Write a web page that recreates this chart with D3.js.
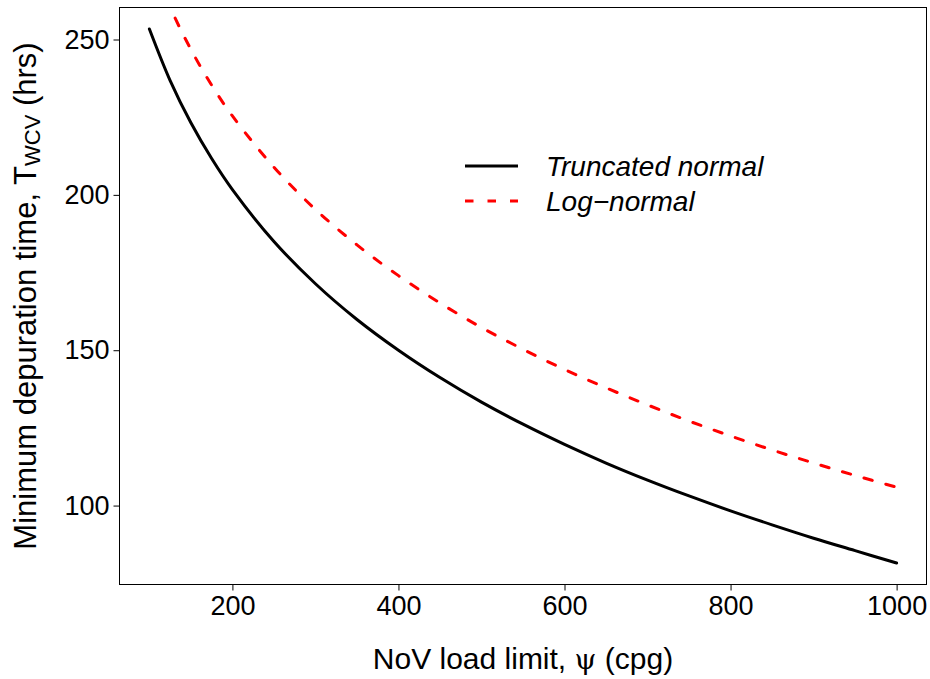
<!DOCTYPE html>
<html lang="en">
<head>
    <meta charset="UTF-8">
    <title>Minimum depuration time</title>
    <script src="https://d3js.org/d3.v7.min.js"></script>
    <style>
        body {
            margin: 0;
            background: #fff;
        }
        svg text {
            font-family: "Liberation Sans", Arial, sans-serif;
            fill: #000;
        }
    </style>
</head>
<body>
    <div id="chart"></div>

    <script>
        // NoV load limit (cpg), sampled along the curves
        const loadLimit = [100, 125, 150, 175, 200, 250, 300, 350, 400, 450, 500, 550,
                           600, 650, 700, 750, 800, 850, 900, 950, 1000];
        // T_WCV (hrs)
        const truncNormal = [253.4, 236.8, 223.2, 211.7, 201.7, 185.0, 171.4, 159.9, 150.0, 141.2, 133.3, 126.2,
                             119.7, 113.7, 108.2, 103.1, 98.3, 93.8, 89.5, 85.5, 81.5];
        const logNormal = [277.0, 260.4, 246.8, 235.3, 225.4, 208.9, 195.3, 183.9, 174.0, 165.2, 157.3, 150.3,
                           143.8, 137.9, 132.4, 127.2, 122.4, 117.9, 113.7, 109.7, 105.9];
        const xTicks = [200, 400, 600, 800, 1000];
        const yTicks = [100, 150, 200, 250];
        const seriesNames = ['Truncated normal', 'Log\u2212normal'];

        const width = 930, height = 679;
        const plot = { left: 119.5, right: 926.5, top: 7.5, bottom: 584.5 };

        const svg = d3.select('#chart')
            .append('svg')
            .attr('width', width)
            .attr('height', height);

        const x = d3.scaleLinear().domain([64, 1036]).range([plot.left, plot.right]);
        const y = d3.scaleLinear().domain([74.6, 260.3]).range([plot.bottom, plot.top]);

        svg.append('clipPath')
            .attr('id', 'plotClip')
            .append('rect')
            .attr('x', plot.left)
            .attr('y', plot.top)
            .attr('width', plot.right - plot.left)
            .attr('height', plot.bottom - plot.top);

        const line = d3.line()
            .x(d => x(d[0]))
            .y(d => y(d[1]))
            .curve(d3.curveCatmullRom.alpha(0.5));

        const series = [
            { name: seriesNames[0], values: truncNormal, color: '#000', dash: null },
            { name: seriesNames[1], values: logNormal, color: '#ff0000', dash: '8.5,14' }
        ];

        const g = svg.append('g').attr('clip-path', 'url(#plotClip)');
        series.forEach(s => {
            g.append('path')
                .datum(loadLimit.map((v, i) => [v, s.values[i]]))
                .attr('d', line)
                .attr('fill', 'none')
                .attr('stroke', s.color)
                .attr('stroke-width', 3)
                .attr('stroke-linecap', 'round')
                .attr('stroke-dasharray', s.dash);
        });

        // axes
        const xAxis = d3.axisBottom(x).tickValues(xTicks).tickFormat(d3.format('d'))
            .tickSize(6).tickPadding(5).tickSizeOuter(0);
        const yAxis = d3.axisLeft(y).tickValues(yTicks).tickFormat(d3.format('d'))
            .tickSize(6).tickPadding(4).tickSizeOuter(0);

        const gx = svg.append('g')
            .attr('transform', `translate(0,${plot.bottom})`)
            .call(xAxis);
        const gy = svg.append('g')
            .attr('transform', `translate(${plot.left},0)`)
            .call(yAxis);

        [gx, gy].forEach(a => {
            a.select('.domain').remove();
            a.selectAll('.tick line').attr('stroke', '#000').attr('stroke-width', 1);
            a.selectAll('.tick text')
                .attr('font-size', 27)
                .attr('font-family', '"Liberation Sans", Arial, sans-serif')
                .attr('fill', '#000');
        });

        // frame
        svg.append('rect')
            .attr('x', plot.left)
            .attr('y', plot.top)
            .attr('width', plot.right - plot.left)
            .attr('height', plot.bottom - plot.top)
            .attr('fill', 'none')
            .attr('stroke', '#000')
            .attr('stroke-width', 1);

        // axis titles
        const xt = svg.append('text')
            .attr('x', (plot.left + plot.right) / 2)
            .attr('y', 669)
            .attr('text-anchor', 'middle')
            .attr('font-size', 30);
        xt.append('tspan').text('NoV load limit, ');
        xt.append('tspan').attr('font-family', '"DejaVu Serif", serif').attr('font-size', 28).text('\u03C8');
        xt.append('tspan').text(' (cpg)');

        const yt = svg.append('text')
            .attr('transform', `translate(36,${(plot.top + plot.bottom) / 2}) rotate(-90)`)
            .attr('text-anchor', 'middle')
            .attr('font-size', 31);
        yt.append('tspan').text('Minimum depuration time, T');
        yt.append('tspan').attr('font-size', 22).attr('dy', 4).text('WCV');
        yt.append('tspan').attr('dy', -4).text(' (hrs)');

        // legend
        const legend = svg.append('g').attr('transform', 'translate(465,166)');
        series.forEach((s, i) => {
            const row = legend.append('g').attr('transform', `translate(0,${i * 35})`);
            row.append('line')
                .attr('x1', 0).attr('x2', 53)
                .attr('stroke', s.color)
                .attr('stroke-width', 3)
                .attr('stroke-dasharray', s.dash);
            row.append('text')
                .attr('x', 81)
                .attr('y', 10)
                .attr('font-size', 28)
                .attr('font-style', 'italic')
                .text(s.name);
        });
    </script>
</body>
</html>
